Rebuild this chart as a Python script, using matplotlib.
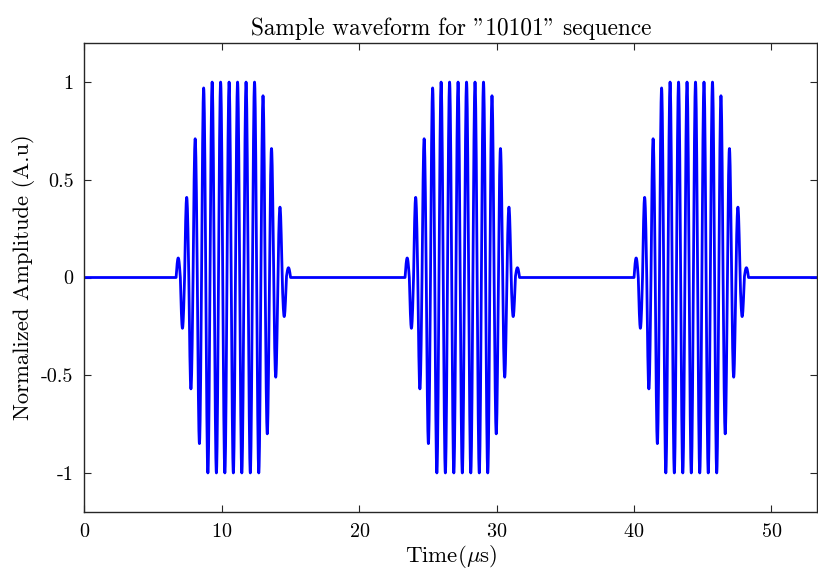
import numpy as np
import matplotlib
matplotlib.use("Agg")
import matplotlib.pyplot as plt

plt.rcParams['font.family'] = 'serif'
plt.rcParams['font.serif'] = ['cmr10']
plt.rcParams['mathtext.fontset'] = 'cm'
plt.rcParams['axes.unicode_minus'] = False
plt.rcParams['axes.formatter.use_mathtext'] = True

# sequence and timing (microseconds)
bits = [1, 0, 1, 0, 1]
bit_period = 8.333
lead = 6.667
t_end = 53.33

# peak value of each half cycle inside one burst
peaks = [0.10, -0.26, 0.41, -0.57, 0.71, -0.85, 0.97, -1.0, 1.0, -1.0,
         1.0, -1.0, 1.0, -1.0, 1.0, -1.0, 1.0, -1.0, 1.0, -1.0,
         0.93, -0.80, 0.66, -0.51, 0.36, -0.20, 0.05]

half = bit_period / len(peaks)
u = np.linspace(0, 1, 25)

t = [0.0]
y = [0.0]
for i, b in enumerate(bits):
    start = lead + i * bit_period
    if b == 1:
        for k, p in enumerate(peaks):
            t.extend(start + (k + u) * half)
            y.extend(p * np.sin(np.pi * u))
    else:
        t.append(start)
        y.append(0.0)
t.append(t_end)
y.append(0.0)

fig = plt.figure(figsize=(8.18, 5.71), dpi=100)
ax = fig.add_axes([0.1033, 0.1033, 0.8957, 0.8214])
ax.plot(t, y, color='#0000ff', lw=2.0)

ax.set_xlim(0, t_end)
ax.set_ylim(-1.2, 1.2)
ax.set_xticks([0, 10, 20, 30, 40, 50])
ax.set_yticks([-1, -0.5, 0, 0.5, 1])
ax.set_yticklabels(['-1', '-0.5', '0', '0.5', '1'])
ax.tick_params(direction='in', top=True, right=True, labelsize=14.5,
               length=5, color='#262626', pad=8)
for s in ax.spines.values():
    s.set_color('#262626')
    s.set_linewidth(1.0)

ax.set_title('Sample waveform for "10101" sequence', fontsize=16.8)
ax.set_xlabel(r'Time($\mu$s)', fontsize=16.5, labelpad=1)
ax.set_ylabel('Normalized Amplitude (A.u)', fontsize=16.3)

fig.savefig('out.png', dpi=100)
